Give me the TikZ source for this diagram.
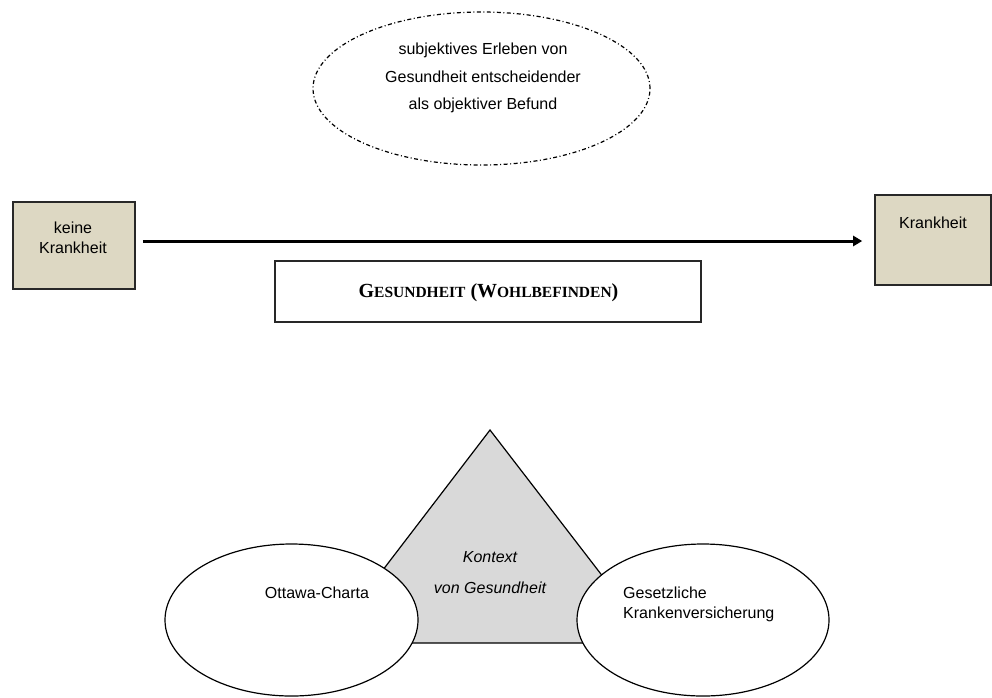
\documentclass[tikz,border=0pt]{standalone}
\usepackage{fontspec}
\setmainfont{Liberation Sans}
\newfontfamily\scserif{Liberation Serif}
\usetikzlibrary{arrows.meta,shapes.geometric}

\definecolor{boxbeige}{RGB}{221,216,195}
\definecolor{ctxgray}{RGB}{217,217,217}
\definecolor{framegray}{RGB}{40,40,40}

% hand-made small capitals: first letter large, rest reduced
\newcommand{\scbig}[1]{{\fontsize{20}{24}\selectfont #1}}
\newcommand{\scsmall}[1]{{\fontsize{15.5}{20}\selectfont #1}}

\tikzset{
  txt/.style={inner sep=0pt, font=\fontsize{16}{20}\selectfont},
  pole/.style={draw=framegray, line width=1.6pt, fill=boxbeige, inner sep=0pt},
  circlebox/.style={draw, line width=1.2pt, fill=white, ellipse, inner sep=0pt},
}

\begin{document}
\begin{tikzpicture}[x=1pt, y=-1pt]
  \useasboundingbox (0,0) rectangle (992,697);

  % dashed idea bubble
  \node[draw, line width=1.2pt, dash pattern=on 4pt off 2.5pt on 1pt off 2.5pt,
        ellipse, minimum width=337pt, minimum height=153pt, inner sep=0pt]
        (idea) at (481.5,88.5) {};
  \node[txt, align=center, font=\fontsize{16}{27.5}\selectfont]
        (ideatext) at (483,78) {subjektives Erleben von\\Gesundheit entscheidender\\als objektiver Befund};

  % the two poles of the continuum
  \node[pole, minimum width=122pt, minimum height=87pt] (keine) at (74,245.5) {};
  \node[txt, align=center] (keinetext) at (73,238) {keine\\Krankheit};
  \node[pole, minimum width=116pt, minimum height=90pt] (krank) at (933,240) {};
  \node[txt] (kranktext) at (933,223) {Krankheit};

  % continuum arrow
  \coordinate (arrowy) at (0,241);
  \draw[line width=3pt, -{Triangle[length=9pt, width=10pt]}]
        ([xshift=7pt]keine.east |- arrowy) -- ([xshift=-12pt]krank.west |- arrowy);

  % title box
  \node[draw=framegray, line width=1.8pt, minimum width=426pt, minimum height=61pt, inner sep=0pt]
        (gbox) at (488,291.5) {};
  \node[inner sep=0pt, font=\scserif\bfseries] (gtext) at (488.5,293)
        {\scbig{G}\scsmall{ESUNDHEIT}\hspace{5pt}\scbig{(W}\scsmall{OHLBEFINDEN}\scbig{)}};

  % context triangle
  \draw[line width=1.2pt, fill=ctxgray] (490,430) -- (654,643) -- (327,643) -- cycle;
  \coordinate (ctx) at (490,572.5);

  % overlapping circles
  \node[circlebox, minimum width=253pt, minimum height=152pt] (ottawa) at (291.5,620) {};
  \node[circlebox, minimum width=252pt, minimum height=152pt] (gkv) at (703,620) {};

  \node[txt, font=\fontsize{16}{31}\selectfont\itshape, align=center] (ctxtext) at (ctx)
        {Kontext\\von Gesundheit};
  \node[txt] (ottawatext) at (317,593) {Ottawa-Charta};
  \node[txt, align=left, anchor=west] (gkvtext) at (623,604.5)
        {Gesetzliche\\Krankenversicherung};
\end{tikzpicture}
\end{document}
